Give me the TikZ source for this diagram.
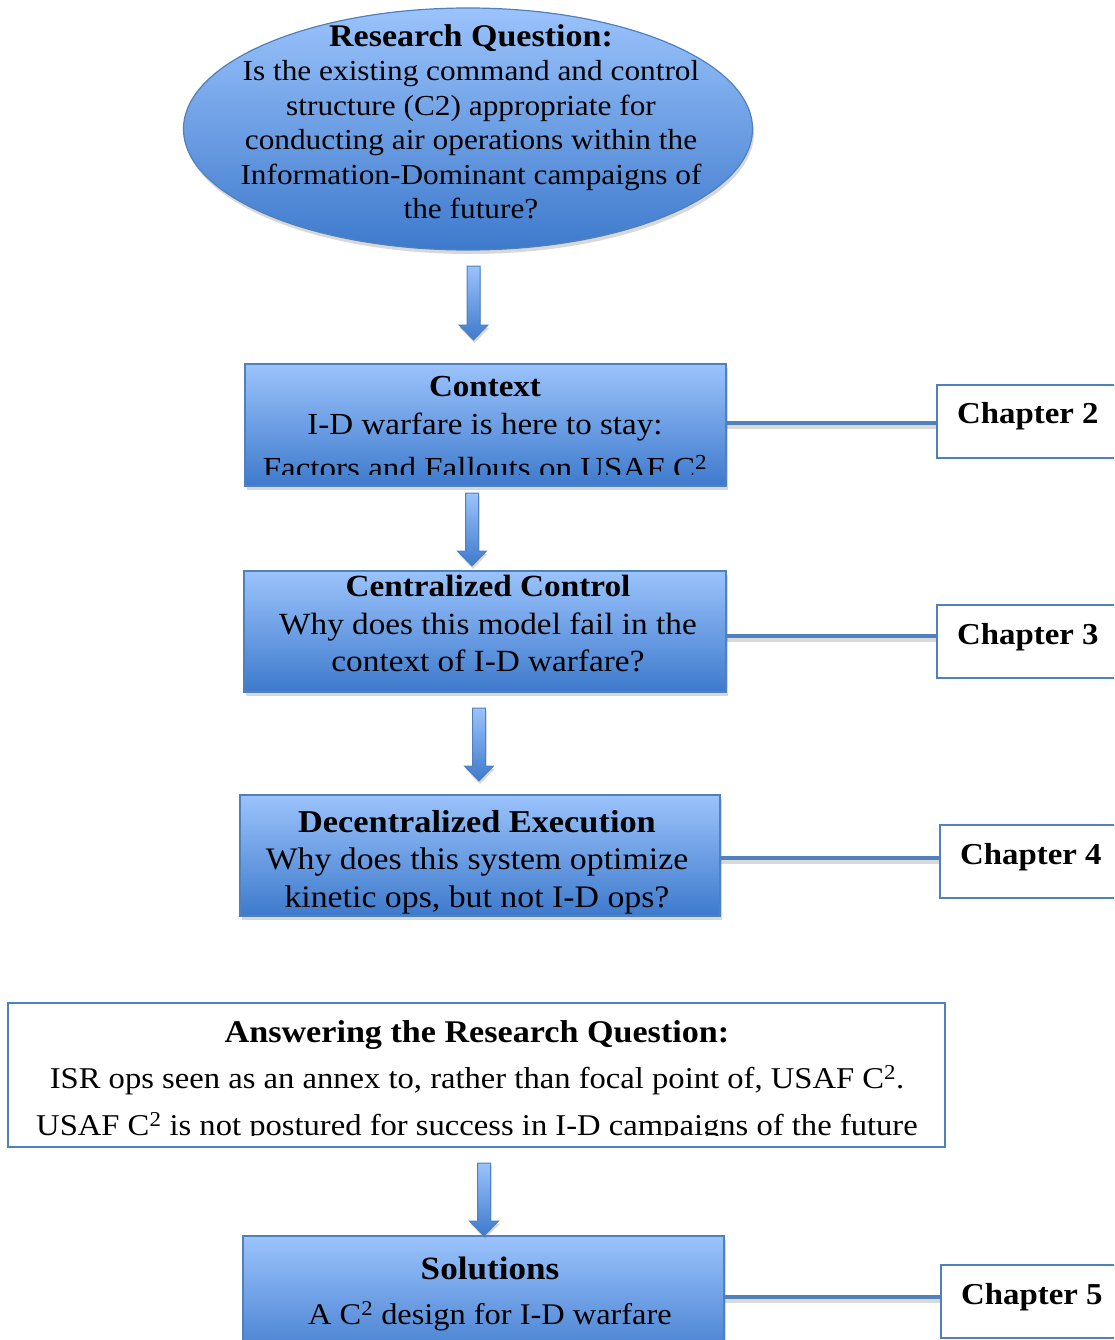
\documentclass[tikz,border=0pt]{standalone}
\usepackage{fontspec}
\setmainfont{Liberation Serif}[FakeStretch=1.08]
\usetikzlibrary{shadows,calc,shapes.geometric}
\definecolor{obl}{RGB}{79,129,189}
\definecolor{shtop}{RGB}{155,195,252}
\definecolor{shbot}{RGB}{62,122,204}
\newcommand\bluearrow[3]{%
  \draw[barrow] (#1-6.5,#2) -- (#1+6.5,#2) -- (#1+6.5,#3-15) -- (#1+14.5,#3-15) -- (#1,#3)
     -- (#1-14.5,#3-15) -- (#1-6.5,#3-15) -- cycle;}
\newcommand\hd[2]{{\fontsize{#1}{30}\selectfont\bfseries #2}}
\begin{document}
\begin{tikzpicture}[x=1pt,y=-1pt,
  shade/.style={top color=shtop, bottom color=shbot},
  shad/.style={drop shadow={opacity=0.3, shadow xshift=1.5pt, shadow yshift=-4pt}},
  bluebox/.style={rectangle, draw=obl, line width=1.2pt, shade, shad, inner sep=0pt},
  rqell/.style={ellipse, draw=obl, line width=1.2pt, shade, shad, inner sep=0pt},
  chbox/.style={rectangle, draw=obl, line width=1.4pt, fill=white, inner sep=0pt,
     minimum width=205, minimum height=73},
  chtext/.style={font=\fontsize{30.4}{34}\selectfont\bfseries, inner sep=0pt, anchor=west},
  txt/.style={align=center, inner sep=0pt, font=\fontsize{28.7}{34.5}\selectfont},
  barrow/.style={draw=obl, line width=1pt, shade, drop shadow={opacity=0.3, shadow xshift=1pt, shadow yshift=-3pt}},
  link/.style={draw=obl, line width=4.5pt,
     preaction={draw=black, opacity=0.15, line width=5pt, transform canvas={yshift=-3pt}}}
]
\useasboundingbox (0,0) rectangle (1114,1340);
\clip (0,0) rectangle (1114,1340);
\fill[white] (0,0) rectangle (1114,1340);

% Research question ellipse
\node[rqell, minimum width=569, minimum height=242] (rq) at (468,129) {};
\node[txt, font=\fontsize{29}{34.5}\selectfont] (rqt) at (471,122) {\hd{31.5}{Research Question:}\\Is the existing command and control\\structure (C2) appropriate for\\conducting air operations within the\\Information-Dominant campaigns of\\the future?};

% Context
\node[bluebox, minimum width=481, minimum height=122] (ctx) at (485.5,425) {};
\begin{scope}
  \clip (245,364) rectangle (726,474);
  \node[txt, font=\fontsize{30.6}{38.5}\selectfont] (ctxt) at (485,427.5) {\hd{30.6}{Context}\\I-D warfare is here to stay:\\[5pt]Factors and Fallouts on USAF C\textsuperscript{2}};
\end{scope}

% Centralized control
\node[bluebox, minimum width=482, minimum height=121] (cc) at (485,631.5) {};
\node[txt, font=\fontsize{30.8}{37.5}\selectfont] (cct) at (488,624) {\hd{30.8}{Centralized Control}\\Why does this model fail in the\\context of I-D warfare?};

% Decentralized execution
\node[bluebox, minimum width=480, minimum height=121] (de) at (480,855.5) {};
\node[txt, font=\fontsize{31.3}{37.5}\selectfont] (det) at (477,862) {\hd{31.8}{Decentralized Execution}\\Why does this system optimize\\kinetic ops, but not I-D ops?};

% Answering box
\node[rectangle, draw=obl, line width=1.4pt, fill=white, inner sep=0pt, minimum width=937, minimum height=144] (ans) at (476.5,1075) {};
\begin{scope}
  \clip (9,1004) rectangle (944,1135.5);
  \node[txt, font=\fontsize{30.2}{46.5}\selectfont] (anst) at (477,1081) {\hd{31.6}{Answering the Research Question:}\\ISR ops seen as an annex to, rather than focal point of, USAF C\textsuperscript{2}.\\USAF C\textsuperscript{2} is not postured for success in I-D campaigns of the future};
\end{scope}

% Solutions
\node[bluebox, minimum width=481, minimum height=130] (sol) at (483.5,1301) {};
\node[txt, font=\fontsize{30}{45}\selectfont] (solt) at (490,1294) {\hd{32.5}{Solutions}\\A C\textsuperscript{2} design for I-D warfare};

% Chapter boxes
\node[chbox] (ch2) at (1039.5,421.5) {};
\node[chtext] (ch2t) at (957,416) {Chapter 2};
\node[chbox] (ch3) at (1039.5,641.5) {};
\node[chtext] (ch3t) at (957,637) {Chapter 3};
\node[chbox] (ch4) at (1042.5,861.5) {};
\node[chtext] (ch4t) at (960,857) {Chapter 4};
\node[chbox] (ch5) at (1043.5,1301.5) {};
\node[chtext] (ch5t) at (961,1297) {Chapter 5};

% Links
\draw[link] (ctx.east |- 0,423) -- (ch2.west |- 0,423);
\draw[link] (cc.east |- 0,636) -- (ch3.west |- 0,636);
\draw[link] (de.east |- 0,858) -- (ch4.west |- 0,858);
\draw[link] (sol.east |- 0,1297) -- (ch5.west |- 0,1297);

% Block arrows
\bluearrow{473.5}{266}{340}
\bluearrow{472}{493}{566}
\bluearrow{479}{708}{781}
\bluearrow{484}{1163}{1236}
\end{tikzpicture}
\end{document}
